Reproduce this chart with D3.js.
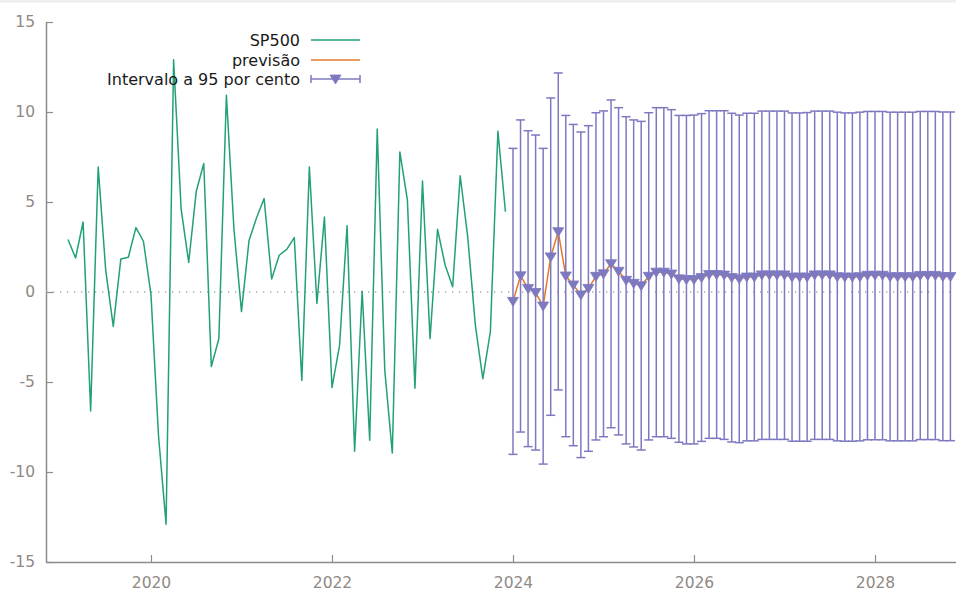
<!DOCTYPE html>
<html>
<head>
<meta charset="utf-8">
<script src="https://cdn.jsdelivr.net/npm/d3@7"></script>
<style>
  html, body { margin: 0; padding: 0; background: #ffffff; }
  svg { display: block; font-family: "DejaVu Sans", Verdana, sans-serif; }
</style>
</head>
<body>
<svg id="chart" width="956" height="594"></svg>
<script>
// Monthly SP500 returns (%), starting February 2019
const sp500Start = [2019, 2];
const sp500 = [
  2.92, 1.89, 3.89, -6.61, 6.95, 1.2, -1.91, 1.83, 1.93, 3.58, 2.82,
  -0.15, -8.0, -12.9, 12.9, 4.6, 1.65, 5.58, 7.14, -4.14, -2.6, 10.93, 3.5,
  -1.09, 2.86, 4.12, 5.19, 0.72, 2.04, 2.37, 3.02, -4.92, 6.95, -0.64, 4.16,
  -5.31, -2.98, 3.68, -8.85, 0.04, -8.23, 9.05, -4.34, -8.95, 7.78, 5.1, -5.35,
  6.17, -2.59, 3.48, 1.5, 0.29, 6.46, 3.05, -1.81, -4.82, -2.2, 8.93, 4.46
];

// Forecast (previsão) and 95% interval, starting January 2024
const forecastStart = [2024, 1];
const forecast = [
  -0.52, 0.9, 0.2, -0.03, -0.78, 1.95, 3.35, 0.89, 0.39, -0.16, 0.2, 0.87,
  1.01, 1.57, 1.15, 0.65, 0.48, 0.35, 0.87, 1.1, 1.1, 1.0, 0.73, 0.69,
  0.69, 0.8, 0.97, 0.97, 0.94, 0.8, 0.73, 0.83, 0.83, 0.95, 0.95, 0.95,
  0.95, 0.83, 0.83, 0.83, 0.95, 0.95, 0.95, 0.85, 0.83, 0.83, 0.85, 0.93,
  0.93, 0.93, 0.85, 0.85, 0.85, 0.85, 0.92, 0.92, 0.92, 0.86, 0.86
];
const upper = [
  7.98, 9.56, 8.96, 8.72, 7.98, 10.78, 12.17, 9.81, 9.31, 8.89, 9.24, 9.96,
  10.06, 10.67, 10.24, 9.74, 9.56, 9.48, 9.96, 10.24, 10.24, 10.13, 9.81, 9.81,
  9.83, 9.91, 10.07, 10.07, 10.07, 9.93, 9.83, 9.93, 9.93, 10.05, 10.05, 10.05,
  10.05, 9.95, 9.95, 9.97, 10.05, 10.05, 10.05, 9.99, 9.95, 9.95, 9.99, 10.03,
  10.03, 10.03, 9.99, 9.99, 9.99, 9.99, 10.03, 10.03, 10.03, 10.0, 10.0
];
const lower = [
  -9.02, -7.78, -8.59, -8.78, -9.56, -6.85, -5.44, -8.04, -8.54, -9.2, -8.85, -8.22,
  -8.04, -7.54, -7.94, -8.44, -8.61, -8.78, -8.22, -8.04, -8.04, -8.13, -8.35, -8.44,
  -8.44, -8.3, -8.13, -8.13, -8.19, -8.33, -8.37, -8.27, -8.27, -8.19, -8.19, -8.19,
  -8.19, -8.29, -8.29, -8.29, -8.19, -8.19, -8.19, -8.27, -8.29, -8.29, -8.27, -8.21,
  -8.21, -8.21, -8.27, -8.27, -8.27, -8.27, -8.2, -8.2, -8.2, -8.26, -8.26
];

const yTicks = [-15, -10, -5, 0, 5, 10, 15];
const xTicks = [2020, 2022, 2024, 2026, 2028];

const legendLabels = ["SP500", "previsão", "Intervalo a 95 por cento"];
const colors = { sp500: "#22a07a", forecast: "#e5782a", interval: "#7d79c0" };

// Decimal year for the i-th month after a start period
const monthTime = (start, i) => start[0] + (start[1] - 1 + i) / 12;

const svg = d3.select("#chart");
const W = 956, H = 594;

const x = d3.scaleLinear().domain([2018.84, 2028.895]).range([46, 956]);
const y = d3.scaleLinear().domain([-15, 15]).range([562, 22]);

// thin grey strip along the top edge
svg.append("rect").attr("x", 0).attr("y", 0).attr("width", W).attr("height", 2.5).attr("fill", "#eeeeee");

const axisColor = "#8c8c8c";
const labelColor = "#8f8984";
const tickFont = 15.5;

// y axis
const yAxis = svg.append("g").attr("transform", "translate(46,0)")
  .call(d3.axisLeft(y).tickValues(yTicks).tickFormat(d => String(d))
    .tickSizeInner(-7).tickSizeOuter(0).tickPadding(11));
yAxis.select(".domain").attr("stroke", axisColor).attr("stroke-width", 1.5);
yAxis.selectAll(".tick line").attr("stroke", axisColor).attr("stroke-width", 1.2);
yAxis.selectAll(".tick text").attr("fill", labelColor).attr("font-size", tickFont)
  .attr("font-family", "DejaVu Sans, sans-serif");

// x axis
const xAxis = svg.append("g").attr("transform", "translate(0,562)")
  .call(d3.axisBottom(x).tickValues(xTicks).tickFormat(d3.format("d"))
    .tickSizeInner(-7).tickSizeOuter(0).tickPadding(15));
xAxis.select(".domain").attr("stroke", axisColor).attr("stroke-width", 1.5);
xAxis.selectAll(".tick line").attr("stroke", axisColor).attr("stroke-width", 1.2);
xAxis.selectAll(".tick text").attr("fill", labelColor).attr("font-size", tickFont)
  .attr("font-family", "DejaVu Sans, sans-serif");

// dotted zero line
svg.append("line")
  .attr("x1", 46).attr("x2", W).attr("y1", y(0)).attr("y2", y(0))
  .attr("stroke", "#a8a8a8").attr("stroke-width", 1.3).attr("stroke-dasharray", "1.3,5.7");

const plot = svg.append("g");

// SP500 series
const spData = sp500.map((v, i) => ({ t: monthTime(sp500Start, i), v }));
const line = d3.line().x(d => x(d.t)).y(d => y(d.v));
plot.append("path").datum(spData)
  .attr("fill", "none").attr("stroke", colors.sp500).attr("stroke-width", 1.5)
  .attr("stroke-linejoin", "round").attr("d", line);

// forecast series
const fcData = forecast.map((v, i) => ({ t: monthTime(forecastStart, i), v, lo: lower[i], hi: upper[i] }));
plot.append("path").datum(fcData)
  .attr("fill", "none").attr("stroke", colors.forecast).attr("stroke-width", 1.5)
  .attr("stroke-linejoin", "round").attr("d", line);

// 95% interval error bars
const capHalf = 4.5;
const bars = plot.append("g").attr("stroke", colors.interval).attr("stroke-width", 1.5);
fcData.forEach(d => {
  const cx = x(d.t);
  bars.append("line").attr("x1", cx).attr("x2", cx).attr("y1", y(d.hi)).attr("y2", y(d.lo));
  bars.append("line").attr("x1", cx - capHalf).attr("x2", cx + capHalf).attr("y1", y(d.hi)).attr("y2", y(d.hi));
  bars.append("line").attr("x1", cx - capHalf).attr("x2", cx + capHalf).attr("y1", y(d.lo)).attr("y2", y(d.lo));
});

// downward triangle markers
const tri = (cx, cy) => `M${cx - 5.5},${cy - 4} L${cx + 5.5},${cy - 4} L${cx},${cy + 5} Z`;
plot.append("g").selectAll("path").data(fcData).join("path")
  .attr("d", d => tri(x(d.t), y(d.v)))
  .attr("fill", colors.interval).attr("stroke", colors.interval).attr("stroke-width", 0.8);

// legend
const legend = svg.append("g");
const rowsY = [40, 60, 79];
legendLabels.forEach((lab, i) => {
  legend.append("text").attr("x", 300).attr("y", rowsY[i]).attr("dy", "0.35em")
    .attr("text-anchor", "end").attr("font-size", 16).attr("fill", "#1a1a1a").text(lab);
});
legend.append("line").attr("x1", 311).attr("x2", 360).attr("y1", rowsY[0]).attr("y2", rowsY[0])
  .attr("stroke", colors.sp500).attr("stroke-width", 1.5);
legend.append("line").attr("x1", 311).attr("x2", 360).attr("y1", rowsY[1]).attr("y2", rowsY[1])
  .attr("stroke", colors.forecast).attr("stroke-width", 1.5);
const lg = legend.append("g").attr("stroke", colors.interval).attr("stroke-width", 1.5);
lg.append("line").attr("x1", 311).attr("x2", 360).attr("y1", rowsY[2]).attr("y2", rowsY[2]);
lg.append("line").attr("x1", 311).attr("x2", 311).attr("y1", rowsY[2] - 4).attr("y2", rowsY[2] + 4);
lg.append("line").attr("x1", 360).attr("x2", 360).attr("y1", rowsY[2] - 4).attr("y2", rowsY[2] + 4);
legend.append("path").attr("d", tri(335.5, rowsY[2]))
  .attr("fill", colors.interval).attr("stroke", colors.interval).attr("stroke-width", 0.8);
</script>
</body>
</html>
